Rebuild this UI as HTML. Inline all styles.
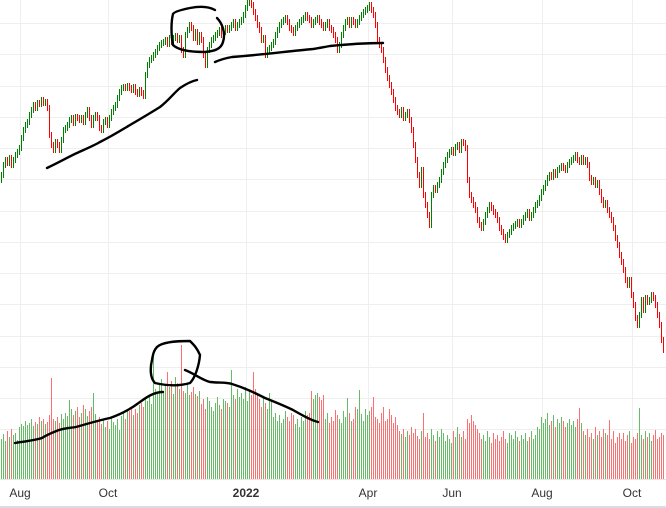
<!DOCTYPE html>
<html><head><meta charset="utf-8"><style>
html,body{margin:0;padding:0;background:#fff;}
svg{display:block;font-family:"Liberation Sans",sans-serif;}
</style></head><body>
<svg id="chart" width="666" height="508" viewBox="0 0 666 508" xmlns="http://www.w3.org/2000/svg">
<g id="grid" shape-rendering="crispEdges"></g>
<g id="volume" shape-rendering="crispEdges"></g>
<g id="price" shape-rendering="crispEdges"></g>
<g id="annotations" fill="none" stroke="#000" stroke-width="2.4" stroke-linecap="round" stroke-linejoin="round">
<path d="M47,168 C60,162 70,156 77,153 C88,148 95,145 100,142 C112,136 120,131 130,125 C142,118 152,112 160,107 C168,101 174,93 180,88 C186,84 192,81 197,80"/>
<path d="M215,10 C208,6 200,6 190,8 C180,10 174,12 173,14 C171,22 171,35 173,45 C178,50 190,52 205,52 C215,51 221,49 223,42 C226,33 222,23 217,18"/>
<path d="M215,62 C222,59 226,58 232,57 C260,55 290,51 313,49 C320,48 324,47 330,46 C350,44 365,43 383,43"/>
<path d="M15,443 C28,441 36,440 42,438 C48,434 54,432 59,430 C66,428 70,428 76,427 C90,423 100,420 110,418 C122,414 132,408 140,402 C148,396 155,392 163,392"/>
<path d="M157,347 C162,342 175,341 190,341 C194,345 197,348 200,355 C199,366 195,378 190,383 C180,386 168,386 155,383 C150,378 150,368 152,360 C153,354 154,350 157,347"/>
<path d="M185,370 C195,374 202,380 210,382 C220,383 226,382 232,384 C245,388 255,393 265,398 C275,402 285,406 293,410 C302,415 310,420 318,422"/>
</g>
<g id="axis"></g>
</svg>
<script>
const closes = [325,335,340,337,342,335,340,345,348,352,362,370,375,378,385,390,395,392,397,396,400,397,398,392,365,355,350,358,355,350,360,370,372,375,380,382,377,383,382,380,382,378,385,390,382,375,382,385,382,372,370,378,380,375,382,388,392,395,402,408,412,413,412,414,412,410,413,408,406,410,407,404,425,435,440,442,445,448,452,455,457,458,460,456,462,458,462,464,460,462,450,445,465,470,475,472,462,468,458,465,460,445,435,450,455,460,462,465,467,470,465,468,472,470,472,475,478,472,475,478,480,485,492,497,498,495,488,482,475,470,460,462,445,450,452,455,458,465,470,475,478,480,482,478,472,470,467,472,475,478,480,482,485,482,480,475,478,480,482,478,475,472,475,478,472,470,465,460,450,455,465,472,478,480,475,480,478,475,478,482,485,488,490,492,495,490,485,475,460,455,450,440,430,422,415,408,400,392,388,385,390,382,385,388,380,370,355,340,325,315,330,305,295,285,275,305,312,310,315,320,328,335,340,345,348,350,347,353,355,350,358,357,352,320,305,300,295,290,280,275,272,278,285,290,295,292,288,285,280,272,268,263,260,265,268,272,274,276,278,275,278,282,285,288,282,285,290,295,297,302,308,312,317,322,325,323,328,325,330,332,334,332,330,335,338,340,342,345,340,338,342,338,340,335,322,318,320,315,317,308,300,295,297,290,285,280,272,262,255,245,238,230,220,215,220,205,195,182,175,185,200,190,202,198,200,205,202,195,185,175,160,150];
const volumes = [40,45,38,48,42,50,44,46,39,52,55,53,58,54,56,60,53,57,55,62,58,60,55,57,64,101,60,58,62,56,65,60,66,63,79,70,64,68,72,62,66,74,70,63,68,72,86,65,58,62,55,60,52,58,50,62,57,54,60,49,63,66,60,70,68,72,64,70,66,74,76,72,80,78,82,75,129,90,85,96,100,88,95,107,92,98,85,102,96,90,134,88,86,96,84,87,92,85,83,88,75,80,70,82,78,72,68,76,82,74,70,80,78,76,72,109,84,80,90,82,86,80,92,78,88,84,107,90,86,80,72,82,76,70,86,78,62,66,58,64,56,60,68,62,58,66,64,55,60,52,62,58,68,64,66,88,80,84,86,82,79,84,60,66,56,62,58,69,64,60,56,68,62,81,66,58,60,72,70,89,65,58,70,64,68,72,82,62,60,56,66,72,58,60,70,64,56,62,54,48,45,50,42,48,44,52,46,50,43,40,48,66,42,46,40,50,44,38,48,42,50,46,38,44,40,36,48,42,52,45,42,48,40,60,56,64,58,54,50,46,40,44,38,48,42,36,46,40,44,38,42,48,40,36,46,44,40,48,42,38,44,40,46,38,42,48,40,44,52,50,62,56,60,66,54,58,64,52,60,56,62,58,52,56,60,54,58,52,60,71,56,48,44,50,42,46,40,52,44,48,42,50,46,44,59,40,48,36,42,46,40,46,38,44,48,36,42,40,46,71,44,40,48,42,46,38,44,49,40,42,46,44,60];
const tickLabels = ["Aug","Oct","2022","Apr","Jun","Aug","Oct"];
const tickIndex = [9.5,53.5,122.5,183.5,225.5,270.5,315.5];

const NS="http://www.w3.org/2000/svg";
const xScale=i=>1+2*i;
const yPrice=p=>500-p;          // price domain [140,500] -> [360,0]
const yVol=v=>479-v;             // volume domain [0,150] -> [479,329]

function mk(tag,attrs,parent){const e=document.createElementNS(NS,tag);for(const k in attrs)e.setAttribute(k,attrs[k]);parent.appendChild(e);return e;}

const grid=document.getElementById('grid');
for(let k=0;k<14;k++){
  const y=Math.round(23+31.25*k)+0.5;
  const l=mk('line',{x1:0,x2:666,y1:y,y2:y,stroke:'#efefef','stroke-width':1},grid);
  
  
}
tickIndex.forEach(t=>{
  const x=Math.round(xScale(t))+0.5;
  const l=mk('line',{x1:x,x2:x,y1:0,y2:479,stroke:'#efefef','stroke-width':1},grid);
  
  
});

const price=document.getElementById('price');
const vol=document.getElementById('volume');
closes.forEach((c,i)=>{
  const prev=i>0?closes[i-1]:c-5;
  const up=c>=prev;
  const hi=Math.max(c,prev)+3, lo=Math.min(c,prev)-3;
  const x=xScale(i);
  const b=mk('rect',{x:x,y:yPrice(hi),width:1,height:hi-lo,fill:up?'#008000':'#ff0000'},price);
  
  
  const v=volumes[i];
  const r=mk('rect',{x:x,y:yVol(v),width:1,height:v,fill:up?'#66bb66':'#ff6f6f'},vol);
  
  
});

const axis=document.getElementById('axis');
const bl=mk('line',{x1:0,x2:666,y1:479.5,y2:479.5,stroke:'#e6e6e6','stroke-width':1},axis);


const bb=mk('line',{x1:0,x2:666,y1:507,y2:507,stroke:'#dcdce6','stroke-width':2},axis);


tickLabels.forEach((t,k)=>{
  const tx=mk('text',{x:xScale(tickIndex[k]),y:497,'text-anchor':'middle','font-size':12,fill:'#333','font-weight':t==='2022'?'bold':'normal'},axis);
  tx.textContent=t;
  
  
});
</script>
</body></html>
